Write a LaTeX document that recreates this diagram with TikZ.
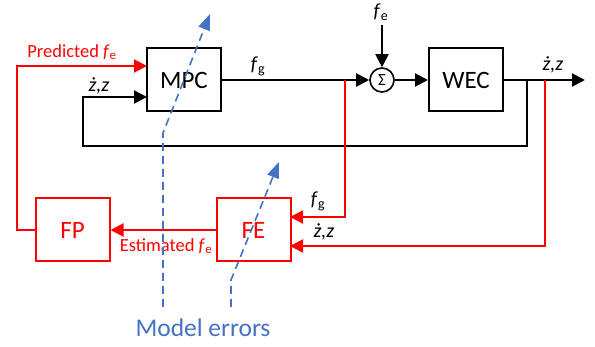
\documentclass[tikz,border=0pt]{standalone}
\usepackage{fontspec}
\setmainfont{Carlito}
\usetikzlibrary{arrows.meta}
\definecolor{myred}{RGB}{255,0,0}
\definecolor{myblue}{RGB}{68,114,196}
\newcommand{\fsub}[1]{\textit{f}\textsubscript{#1}}
\begin{document}
\begin{tikzpicture}[x=1pt,y=-1pt,
  blk/.style={draw, line width=2pt, minimum width=74pt, minimum height=63pt, inner sep=0pt, font=\fontsize{25}{28}\selectfont},
  rbox/.style={blk, draw=myred, text=myred},
  sumc/.style={draw, circle, line width=1.6pt, minimum size=24pt, inner sep=0pt, font=\fontsize{17}{18}\selectfont},
  conn/.style={line width=2pt, -{Triangle[length=13pt,width=13pt]}},
  rconn/.style={conn, draw=myred, color=myred},
  bconn/.style={line width=1.6pt, draw=myblue, dash pattern=on 8pt off 5pt, -{Triangle[length=16pt,width=12pt]}, color=myblue},
  lbl/.style={inner sep=0pt, font=\fontsize{20}{22}\selectfont},
  rlbl/.style={lbl, text=myred, font=\fontsize{18.5}{20}\selectfont}
]
\useasboundingbox (0,0) rectangle (595,347);
% blocks
\node[blk] (mpc) at (184,80) {MPC};
\node[blk] (wec) at (466,80) {WEC};
\node[sumc] (sum) at (382,80) {Σ};
\node[rbox] (fp) at (72.5,230) {FP};
\node[rbox] (fe) at (253.5,230) {FE};
% coordinates
\coordinate (out) at (585,80);
\coordinate (fein) at (382,25);
\coordinate (fb) at (527,80);
\coordinate (fb1) at (527,146);
\coordinate (fb2) at (83,146);
\coordinate (fb3) at (83,97);
\coordinate (mpcz) at (147,97);
\coordinate (pr1) at (17,230);
\coordinate (pr2) at (17,66);
\coordinate (mpcp) at (147,66);
\coordinate (brg) at (345,80);
\coordinate (brg1) at (345,217);
\coordinate (feg) at (290,217);
\coordinate (brz) at (545,80);
\coordinate (brz1) at (545,246);
\coordinate (fez) at (290,246);
% black connectors
\draw[conn] (mpc.east) -- (sum.west);
\draw[conn] (sum.east) -- (wec.west);
\draw[conn] (wec.east) -- (out);
\draw[conn] (fein) -- (sum.north);
\draw[conn] (fb) -- (fb1) -- (fb2) -- (fb3) -- (mpcz);
% red connectors
\draw[rconn] (fp.west) -- (pr1) -- (pr2) -- (mpcp);
\draw[rconn] (fe.west) -- (fp.east);
\draw[rconn] (brg) -- (brg1) -- (feg);
\draw[rconn] (brz) -- (brz1) -- (fez);
% labels
\node[lbl] at (258,66) {\fsub{g}};
\node[lbl] at (381,12) {\fsub{e}};
\node[lbl] at (553,65) {\textit{ż,z}};
\node[lbl] at (99,86) {\textit{ż,z}};
\node[lbl] at (318,201) {\fsub{g}};
\node[lbl] at (324,232) {\textit{ż,z}};
\node[rlbl] at (72,52) {Predicted \fsub{e}};
\node[rlbl] at (166,246) {Estimated \fsub{e}};
% model errors
\coordinate (m1) at (163,307);
\coordinate (m1a) at (163,133);
\coordinate (m1t) at (210,14);
\coordinate (m2) at (231,307);
\coordinate (m2a) at (231,280);
\coordinate (m2t) at (279,162);
\draw[bconn] (m1) -- (m1a) -- (m1t);
\draw[bconn] (m2) -- (m2a) -- (m2t);
\node[lbl, text=myblue, font=\fontsize{25.5}{28}\selectfont] (me) at (203,328) {Model errors};
\end{tikzpicture}
\end{document}
